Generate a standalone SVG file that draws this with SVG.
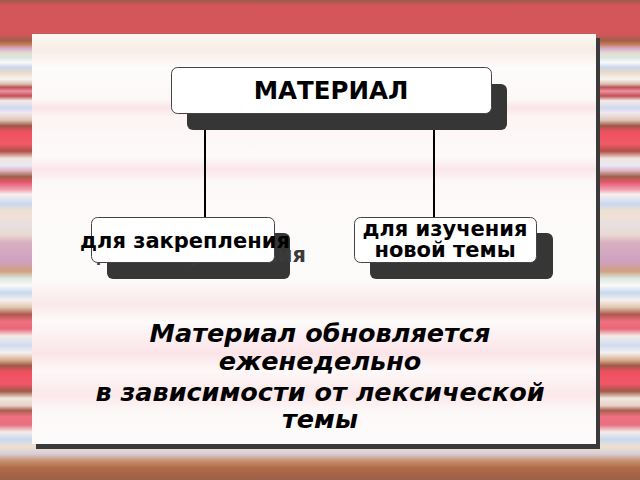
<svg xmlns="http://www.w3.org/2000/svg" width="640" height="480" viewBox="0 0 640 480">
<defs>
<linearGradient id="bg" x1="0" y1="0" x2="0" y2="480" gradientUnits="userSpaceOnUse">
<stop offset="0" stop-color="#9c5a4a"/>
<stop offset="0.012" stop-color="#d4555a"/>
<stop offset="0.07" stop-color="#d4555a"/>
<stop offset="0.085" stop-color="#a0604a"/>
<stop offset="0.092" stop-color="#c87850"/>
<stop offset="0.1" stop-color="#d0a8c8"/>
<stop offset="0.11" stop-color="#e8d8d0"/>
<stop offset="0.12" stop-color="#d8e8e0"/>
<stop offset="0.13" stop-color="#fafafa"/>
<stop offset="0.14" stop-color="#c8d8f0"/>
<stop offset="0.15" stop-color="#e8d8c8"/>
<stop offset="0.165" stop-color="#f8f4f0"/>
<stop offset="0.175" stop-color="#d8c0b0"/>
<stop offset="0.182" stop-color="#c05058"/>
<stop offset="0.19" stop-color="#f090a0"/>
<stop offset="0.2" stop-color="#c05058"/>
<stop offset="0.21" stop-color="#f4ece8"/>
<stop offset="0.225" stop-color="#d0d8f0"/>
<stop offset="0.235" stop-color="#f0e8f0"/>
<stop offset="0.25" stop-color="#e0c8b8"/>
<stop offset="0.262" stop-color="#a05848"/>
<stop offset="0.275" stop-color="#f05060"/>
<stop offset="0.3" stop-color="#f05a68"/>
<stop offset="0.315" stop-color="#b05048"/>
<stop offset="0.33" stop-color="#f0e4e0"/>
<stop offset="0.345" stop-color="#e8e8f4"/>
<stop offset="0.355" stop-color="#e0b8c8"/>
<stop offset="0.368" stop-color="#a06048"/>
<stop offset="0.38" stop-color="#e85870"/>
<stop offset="0.395" stop-color="#f0a0b0"/>
<stop offset="0.405" stop-color="#f8f0f0"/>
<stop offset="0.425" stop-color="#c8d8f0"/>
<stop offset="0.44" stop-color="#f0e0d0"/>
<stop offset="0.47" stop-color="#e8e0e0"/>
<stop offset="0.49" stop-color="#e8d8d0"/>
<stop offset="0.505" stop-color="#d8b0c0"/>
<stop offset="0.545" stop-color="#d0a0c0"/>
<stop offset="0.565" stop-color="#d0a080"/>
<stop offset="0.58" stop-color="#dce8e0"/>
<stop offset="0.595" stop-color="#fafafa"/>
<stop offset="0.61" stop-color="#c8d8f0"/>
<stop offset="0.625" stop-color="#f4f0ec"/>
<stop offset="0.64" stop-color="#e0c8b0"/>
<stop offset="0.655" stop-color="#b05850"/>
<stop offset="0.67" stop-color="#f07080"/>
<stop offset="0.685" stop-color="#e86878"/>
<stop offset="0.7" stop-color="#f4ece8"/>
<stop offset="0.72" stop-color="#d0dcf0"/>
<stop offset="0.735" stop-color="#f4f0f0"/>
<stop offset="0.75" stop-color="#d8b090"/>
<stop offset="0.762" stop-color="#a05848"/>
<stop offset="0.775" stop-color="#f05060"/>
<stop offset="0.8" stop-color="#f05668"/>
<stop offset="0.815" stop-color="#a05848"/>
<stop offset="0.83" stop-color="#f0e8e0"/>
<stop offset="0.845" stop-color="#e8d0c8"/>
<stop offset="0.855" stop-color="#a86050"/>
<stop offset="0.868" stop-color="#f07080"/>
<stop offset="0.885" stop-color="#e87080"/>
<stop offset="0.9" stop-color="#f4ece8"/>
<stop offset="0.915" stop-color="#c8d8f0"/>
<stop offset="0.93" stop-color="#f0e0d0"/>
<stop offset="0.945" stop-color="#d8d0d8"/>
<stop offset="0.96" stop-color="#c89070"/>
<stop offset="0.975" stop-color="#b06a48"/>
<stop offset="1" stop-color="#9c6048"/>
</linearGradient>
<linearGradient id="panel" x1="0" y1="34" x2="0" y2="444" gradientUnits="userSpaceOnUse">
<stop offset="0" stop-color="#fdf8f4"/>
<stop offset="0.04" stop-color="#f8ece6"/>
<stop offset="0.08" stop-color="#fdfbfb"/>
<stop offset="0.16" stop-color="#fdf8f8"/>
<stop offset="0.18" stop-color="#fbe4e8"/>
<stop offset="0.2" stop-color="#fdf4f4"/>
<stop offset="0.3" stop-color="#fdfafa"/>
<stop offset="0.33" stop-color="#fbe6ea"/>
<stop offset="0.36" stop-color="#fdf8f8"/>
<stop offset="0.5" stop-color="#fdfbfa"/>
<stop offset="0.6" stop-color="#fdfafa"/>
<stop offset="0.66" stop-color="#fbe8ea"/>
<stop offset="0.7" stop-color="#fdfafa"/>
<stop offset="0.78" stop-color="#fbe4e8"/>
<stop offset="0.82" stop-color="#fdf8f8"/>
<stop offset="0.88" stop-color="#fbe8ea"/>
<stop offset="0.92" stop-color="#fdf8f8"/>
<stop offset="1" stop-color="#fdfbfb"/>
</linearGradient>
</defs>
<style>
.box{fill:#ffffff;stroke:#444;stroke-width:1}
.sh{fill:#363636}
.lbl{font-family:"DejaVu Sans",sans-serif;font-weight:bold;fill:#000;text-anchor:middle}
.shtxt{font-family:"DejaVu Sans",sans-serif;font-weight:bold;fill:#3a3a3a;text-anchor:middle}
.conn{stroke:#000;stroke-width:2;fill:none}
.note{font-family:"DejaVu Sans",sans-serif;font-weight:bold;font-style:italic;fill:#000;text-anchor:middle;font-size:25.5px}
</style>
<rect x="0" y="0" width="640" height="480" fill="url(#bg)"/>
<g id="panel">
<rect x="36" y="38" width="564" height="411" fill="#3a3a3a"/>
<rect x="32" y="34" width="564" height="410" fill="url(#panel)"/>
</g>
<g id="connectors">
<line class="conn" x1="205" y1="113" x2="205" y2="218"/>
<line class="conn" x1="434" y1="113" x2="434" y2="218"/>
</g>
<g id="material">
<rect class="sh" x="187" y="84" width="320" height="46" rx="6"/>
<rect class="box" x="171.500" y="67.500" width="320" height="46" rx="6"/>
<text class="lbl" x="331" y="99" font-size="24.5">МАТЕРИАЛ</text>
</g>
<g id="zakreplenie">
<rect class="sh" x="107" y="233" width="183" height="46" rx="6"/>
<text class="shtxt" x="201" y="262" font-size="21">для закрепления</text>
<rect class="box" x="91.500" y="217.500" width="183" height="45" rx="6"/>
<text class="lbl" x="185" y="248" font-size="21">для закрепления</text>
</g>
<g id="izuchenie">
<rect class="sh" x="370" y="233" width="183" height="46" rx="6"/>
<rect class="box" x="354.500" y="217.500" width="182" height="45" rx="6"/>
<text class="lbl" x="445" y="236" font-size="21">для изучения</text>
<text class="lbl" x="445" y="257" font-size="21">новой темы</text>
</g>
<g id="note">
<text class="note" x="320" y="342">Материал обновляется</text>
<text class="note" x="320" y="370">еженедельно</text>
<text class="note" x="320" y="401">в зависимости от лексической</text>
<text class="note" x="320" y="428">темы</text>
</g>
</svg>
